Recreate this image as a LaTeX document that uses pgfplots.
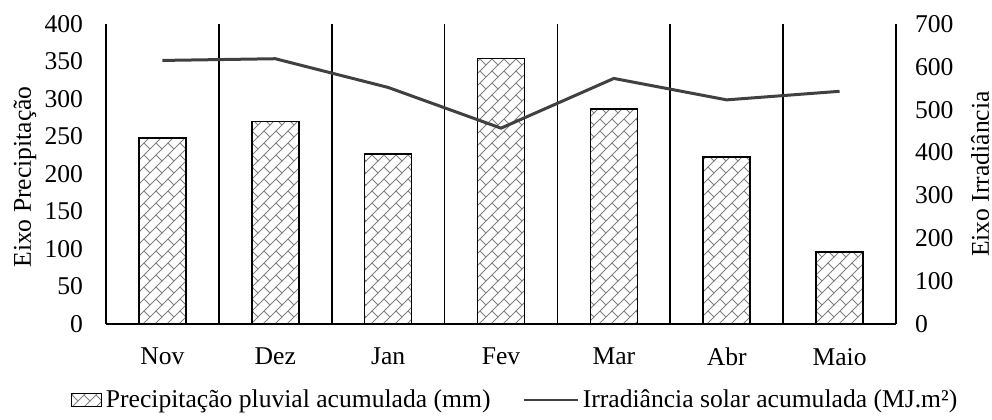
\documentclass[border=0pt]{standalone}
\usepackage{fontspec}
\setmainfont{Liberation Serif}
\usepackage{pgfplots}
\pgfplotsset{compat=1.18}
\usetikzlibrary{patterns.meta,calc}
\tikzdeclarepattern{
  name=brick, type=uncolored,
  bottom left={(-0.5pt,-0.5pt)}, top right={(6.5pt,6.5pt)},
  tile size={(6pt,6pt)},
  code={\draw[line width=0.5pt] (0,0)--(6pt,6pt); \draw[line width=0.5pt] (0,6pt)--(3pt,3pt);}
}
\definecolor{linegray}{HTML}{404040}
\newcommand{\ff}{\fontsize{12.8}{15}\selectfont}
\begin{document}
\begin{tikzpicture}[font=\ff]
\path[use as bounding box] (-53pt,-47.5pt) rectangle (443pt,162pt);
\begin{axis}[
  at={(0,0)}, anchor=south west,
  scale only axis, width=395pt, height=150pt,
  xmin=-0.5, xmax=6.5, ymin=0, ymax=400,
  axis x line*=bottom, axis y line*=left,
  xtick={0,...,6}, xticklabels={Nov,Dez,Jan,Fev,Mar,Abr,Maio},
  minor xtick={0.5,1.5,2.5,3.5,4.5,5.5}, xminorgrids,
  minor grid style={black, line width=0.8pt},
  ytick={0,50,...,400},
  major tick length=0pt, minor tick length=0pt,
  axis line style={line width=0.8pt, -},
  ylabel={Eixo Precipitação},
  every axis y label/.style={at={($(axis description cs:0,0.49)+(-40.5pt,0)$)}, anchor=center, rotate=90, font=\ff},
  tick label style={font=\ff},
  /pgf/number format/assume math mode=true,
  xticklabel style={yshift=-8.5pt},
  yticklabel style={xshift=-8pt},
  legend style={at={(0.519,-0.253)}, anchor=center, draw=none, legend columns=2,
    font=\ff,
    /tikz/every even column/.append style={column sep=14pt}},
  legend cell align=left,
]
\addplot[ybar, bar width=23.5pt, draw=black, line width=0.8pt, pattern=brick, pattern color=gray,
  legend image code/.code={\draw[pattern=brick, pattern color=gray, draw=black, line width=0.6pt] (0pt,-3.2pt) rectangle (15pt,3.2pt);}]
  coordinates {(0,248) (1,270) (2,227) (3,354) (4,287) (5,223) (6,96)};
\addlegendentry{Precipitação pluvial acumulada (mm)}
\addlegendimage{legend image code/.code={\draw[color=linegray, line width=1.2pt] (0pt,0pt) -- (27pt,0pt);}}
\addlegendentry{Irradiância solar acumulada (MJ.m²)}
\end{axis}
\begin{axis}[
  at={(0,0)}, anchor=south west,
  scale only axis, width=395pt, height=150pt,
  xmin=-0.5, xmax=6.5, ymin=0, ymax=700,
  axis y line*=right, axis x line=none,
  ytick={0,100,...,700},
  major tick length=0pt,
  axis line style={line width=0.8pt, -},
  ylabel={Eixo Irradiância},
  every axis y label/.style={at={($(axis description cs:1,0.5)+(42pt,0)$)}, anchor=center, rotate=90, font=\ff},
  tick label style={font=\ff},
  yticklabel style={xshift=6pt},
  /pgf/number format/assume math mode=true,
]
\addplot[color=linegray, line width=1.5pt] coordinates {(0,615) (1,619) (2,552) (3,457) (4,573) (5,523) (6,543)};
\end{axis}
\end{tikzpicture}
\end{document}
